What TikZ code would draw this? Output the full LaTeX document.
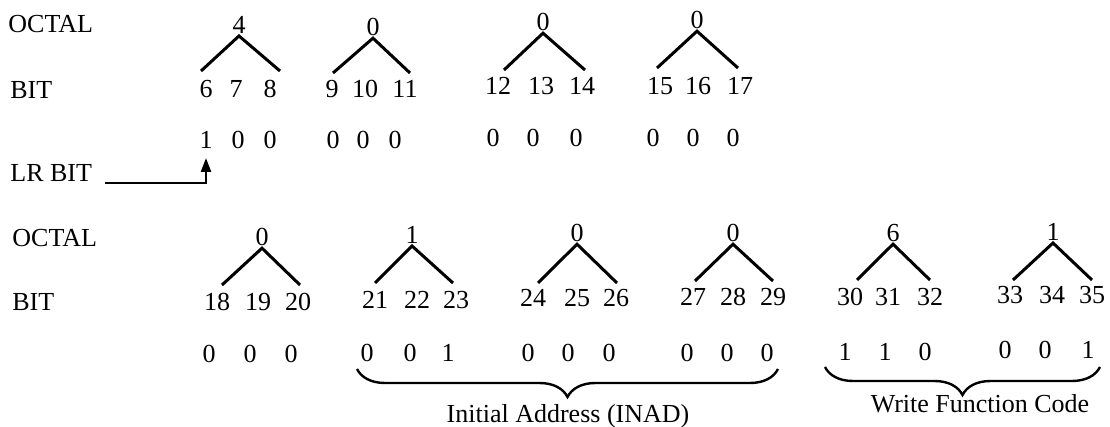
\documentclass[tikz,border=0pt]{standalone}
\usepackage{fontspec}
\setmainfont{Liberation Serif}
\usetikzlibrary{arrows.meta,decorations.pathreplacing}

\begin{document}
\begin{tikzpicture}[x=0.5pt, y=-0.5pt, >={Triangle[length=7pt,width=5pt]},
  every node/.style={font=\fontsize{13}{15}\selectfont, inner sep=1pt},
  lab/.style={anchor=west, inner sep=0pt},
  chev/.style={line width=1.5pt, line join=miter},
  brc/.style={decorate, decoration={brace,mirror,amplitude=14pt}, line width=1.2pt}]
\useasboundingbox (0,0) rectangle (1110,427);
\node[lab] (oct1) at (8,24) {OCTAL};
\node[lab] (bit1) at (10,90) {BIT};
\node[lab] (lrbit) at (10,173) {LR BIT};
\node[lab] (oct2) at (12,238) {OCTAL};
\node[lab] (bit2) at (12,302) {BIT};
\foreach \g/\o/\ax/\oy/\lx/\rx/\ey in {1/4/239/25/201/280/71, 2/0/373/27/333/410/73,
  3/0/543/22/504/585/70, 4/0/697/20/657/738/68, 5/0/262/237/222/300/285,
  6/1/412/235/375/453/283, 7/0/577/233/538/617/283, 8/0/733/233/695/773/281,
  9/6/893/233/857/930/280, 10/1/1053/232/1013/1092/280}
  {\node (o\g) at (\ax,\oy) {\o};
   \coordinate (l\g) at (\lx,\ey); \coordinate (r\g) at (\rx,\ey);
   \draw[chev] (l\g) -- (o\g.south) -- (r\g);}
\foreach \n/\x/\y in {6/206/89, 7/236/89, 8/270/89, 9/332/89, 10/365/89, 11/405/89,
  12/498/86, 13/541/86, 14/582/86, 15/660/86, 16/698/86, 17/740/86,
  18/217/302, 19/258/302, 20/298/302, 21/375/300, 22/417/300, 23/456/300,
  24/533/298, 25/577/298, 26/616/298, 27/693/297, 28/733/297, 29/773/297,
  30/850/297, 31/888/297, 32/930/297, 33/1010/295, 34/1052/295, 35/1092/295}
  {\node (b\n) at (\x,\y) {\n};}
\foreach \n/\v/\x/\y in {6/1/206/140, 7/0/238/140, 8/0/270/140, 9/0/333/140, 10/0/363/140,
  11/0/395/140, 12/0/493/138, 13/0/533/138, 14/0/576/138, 15/0/653/138, 16/0/693/138,
  17/0/733/138, 18/0/209/354, 19/0/250/354, 20/0/291/354, 21/0/367/353, 22/0/410/353,
  23/1/448/353, 24/0/528/353, 25/0/568/353, 26/0/609/353, 27/0/687/353, 28/0/727/353,
  29/0/767/353, 30/1/845/352, 31/1/885/352, 32/0/925/352, 33/0/1005/350, 34/0/1045/350,
  35/1/1088/350}
  {\node (v\n) at (\x,\y) {\v};}
\coordinate (lrs) at (105,183);
\draw[line width=1.2pt, ->, shorten >=3.5pt] (lrs) -| (v6.south);
\coordinate (inadL) at (357,369); \coordinate (inadR) at (778,369);
\coordinate (wfcL) at (825,367); \coordinate (wfcR) at (1100,367);
\draw[brc] (inadL) -- (inadR);
\draw[brc] (wfcL) -- (wfcR);
\node[anchor=base] (inad) at (568,423) {Initial Address (INAD)};
\node[anchor=base] (wfc) at (980,413) {Write Function Code};
\end{tikzpicture}
\end{document}
